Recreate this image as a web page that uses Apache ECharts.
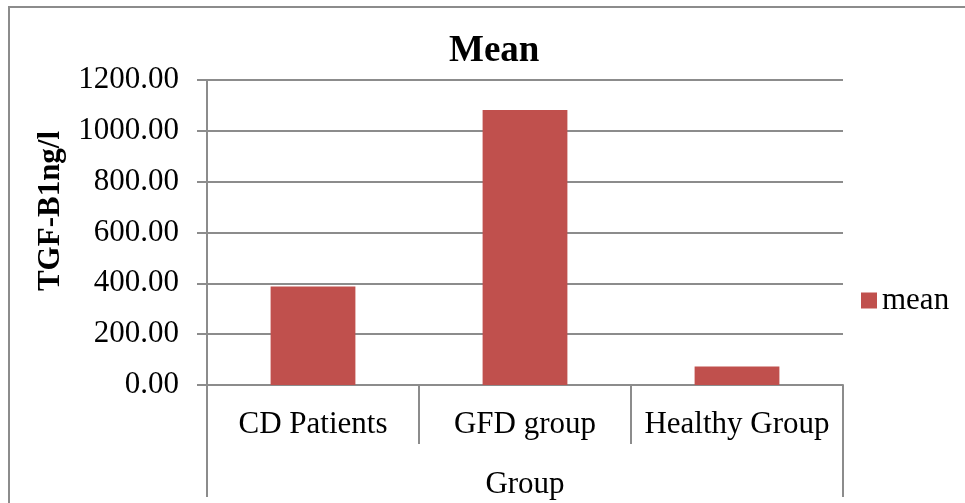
<!DOCTYPE html>
<html>
<head>
<meta charset="utf-8">
<style>
  html, body { margin: 0; padding: 0; background: #fff; }
  #chart { width: 965px; height: 503px; }
</style>
<script src="https://cdn.jsdelivr.net/npm/echarts@6/dist/echarts.min.js"></script>
</head>
<body>
<div id="chart"></div>
<script>
// Mean TGF-B1 level per group
const categories = ['CD Patients', 'GFD group', 'Healthy Group'];
const meanValues = [388, 1082, 73];
const groupLabel = ['Group'];
const seriesName = 'mean';
const yAxisTitle = 'TGF-B1ng/l';

const FONT = '"Liberation Serif", "Times New Roman", serif';
const LINE = '#8c8c8c';

const chart = echarts.init(document.getElementById('chart'));
chart.setOption({
  animation: false,
  backgroundColor: '#fff',
  textStyle: { fontFamily: FONT, color: '#000' },
  title: {
    text: 'Mean',
    left: 444,
    top: 28,
    textStyle: { fontFamily: FONT, fontSize: 37, fontWeight: 'bold', color: '#000' }
  },
  legend: {
    data: [seriesName],
    left: 856,
    top: 280,
    itemWidth: 16,
    itemHeight: 16,
    itemGap: 5,
    icon: 'rect',
    textStyle: { fontFamily: FONT, fontSize: 31, color: '#000' }
  },
  grid: { left: 207, right: 122, top: 80, bottom: 118, containLabel: false },
  xAxis: [
    {
      type: 'category',
      data: categories,
      boundaryGap: true,
      axisLine: { show: true, lineStyle: { color: LINE, width: 2 } },
      axisTick: { show: true, interval: 0, alignWithLabel: false, length: 59, lineStyle: { color: LINE, width: 2 } },
      axisLabel: { interval: 0, margin: 24, fontFamily: FONT, fontSize: 31, color: '#000' }
    },
    {
      type: 'category',
      data: groupLabel,
      position: 'bottom',
      boundaryGap: true,
      axisLine: { show: false },
      axisTick: { show: true, interval: 0, length: 112, lineStyle: { color: LINE, width: 2 } },
      axisLabel: { interval: 0, margin: 84, fontFamily: FONT, fontSize: 31, color: '#000' }
    }
  ],
  yAxis: {
    type: 'value',
    min: 0,
    max: 1200,
    interval: 200,
    axisLine: { show: true, lineStyle: { color: LINE, width: 2 } },
    axisTick: { show: true, length: 10, lineStyle: { color: LINE, width: 2 } },
    splitLine: { show: true, lineStyle: { color: LINE, width: 2 } },
    axisLabel: {
      margin: 28,
      fontFamily: FONT,
      fontSize: 31,
      color: '#000',
      formatter: v => v.toFixed(2)
    }
  },
  series: [{
    name: seriesName,
    type: 'bar',
    data: meanValues,
    barWidth: '40%',
    itemStyle: { color: '#C0504D' }
  }],
  graphic: [
    {
      type: 'rect',
      shape: { x: 9, y: 7, width: 1000, height: 600 },
      style: { fill: 'none', stroke: LINE, lineWidth: 2 },
      silent: true,
      z: -1
    },
    {
      type: 'text',
      x: 51,
      y: 211,
      rotation: Math.PI / 2,
      style: {
        text: yAxisTitle,
        font: 'bold 31px ' + FONT,
        fill: '#000',
        align: 'center',
        verticalAlign: 'middle'
      }
    }
  ]
});
</script>
</body>
</html>
